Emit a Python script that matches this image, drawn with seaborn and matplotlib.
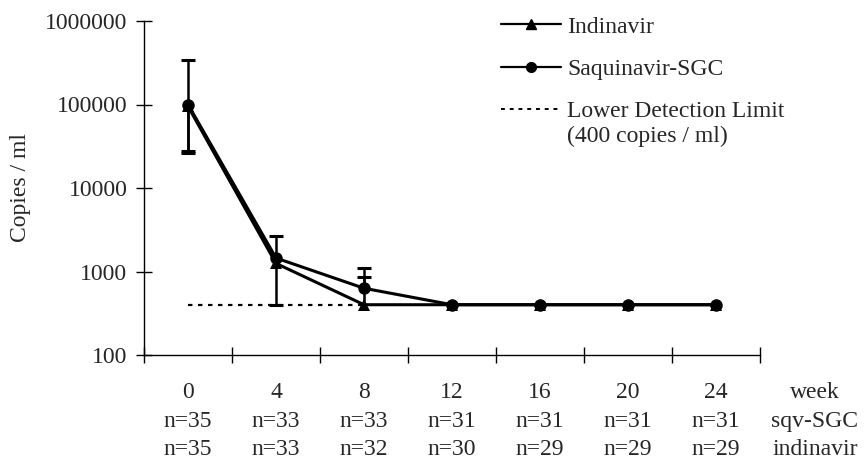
import numpy as np
import pandas as pd
import matplotlib
matplotlib.use("Agg")
import matplotlib.pyplot as plt
from matplotlib.lines import Line2D
import seaborn as sns

# ---- data ----
weeks = ["0", "4", "8", "12", "16", "20", "24"]
n_sqv = [35, 33, 33, 31, 31, 31, 31]
n_idv = [35, 33, 32, 30, 29, 29, 29]
indinavir = [95000, 1250, 400, 400, 400, 400, 400]
saquinavir = [100000, 1450, 630, 400, 400, 400, 400]
sqv_upper = [340000, 2650, 1100, np.nan, np.nan, np.nan, np.nan]
sqv_lower = [28000, np.nan, np.nan, np.nan, np.nan, np.nan, np.nan]
idv_upper = [np.nan, np.nan, 870, np.nan, np.nan, np.nan, np.nan]
idv_lower = [26500, 400, np.nan, np.nan, np.nan, np.nan, np.nan]
detection_limit = [400, 400, 400]
y_ticks = [100, 1000, 10000, 100000, 1000000]

FS = 17
sns.set_theme(style="white")
plt.rcParams["font.family"] = ["Liberation Serif", "DejaVu Serif"]
plt.rcParams["font.size"] = FS

fig = plt.figure(figsize=(8.65, 4.59), dpi=100)
ax = fig.add_axes([144 / 865, 1 - 355 / 459, (760 - 144) / 865, (355 - 21) / 459])

pos = np.arange(len(weeks))
df = pd.DataFrame({
    "pos": np.concatenate([pos, pos]),
    "value": indinavir + saquinavir,
    "series": ["Indinavir"] * len(weeks) + ["Saquinavir-SGC"] * len(weeks),
})

# detection limit line
ax.plot(pos[:len(detection_limit)], detection_limit, color="black", lw=1.6,
        linestyle=(0, (2, 2.5)), zorder=1)

sns.lineplot(data=df, x="pos", y="value", hue="series", style="series",
             markers={"Indinavir": "^", "Saquinavir-SGC": "o"}, dashes=False,
             palette={"Indinavir": "black", "Saquinavir-SGC": "black"},
             linewidth=2.2, markersize=9, markeredgewidth=0, legend=False,
             ax=ax, zorder=3)

# error bars
def bars(center, ends):
    c = np.array(center, dtype=float)
    e = np.array(ends, dtype=float)
    m = ~np.isnan(e)
    ax.vlines(pos[m], c[m], e[m], color="black", lw=1.8, zorder=2)
    ax.plot(pos[m], e[m], linestyle="none", marker="_", markersize=10,
            markeredgewidth=2.2, color="black", zorder=2)

bars(saquinavir, sqv_upper)
bars(saquinavir, sqv_lower)
bars(indinavir, idv_upper)
bars(indinavir, idv_lower)

ax.set_yscale("log")
ax.set_ylim(100, 1000000)
ax.set_xlim(-0.5, len(weeks) - 0.5)
ax.yaxis.set_major_locator(matplotlib.ticker.FixedLocator(y_ticks))
ax.yaxis.set_minor_locator(matplotlib.ticker.NullLocator())
ax.set_yticklabels([str(v) for v in y_ticks])

ax.set_xticks(np.arange(-0.5, len(weeks)), labels=[""] * (len(weeks) + 1))
ax.set_xticks(pos, minor=True)
LSP = 1.47
ax.set_xticklabels([f"{w}\nn={a}\nn={b}" for w, a, b in zip(weeks, n_sqv, n_idv)],
                   minor=True, linespacing=LSP)
XPAD = 19.5
ax.tick_params(axis="x", which="minor", bottom=True, length=0, pad=XPAD, labelsize=FS)
ax.tick_params(axis="x", which="major", bottom=True, direction="inout", length=11,
               width=1, color="black")
ax.tick_params(axis="y", which="major", left=True, direction="inout", length=11, width=1,
               color="black", pad=6.5, labelsize=FS)

ax.annotate("week\nsqv-SGC\nindinavir", xy=(7.125, 0), xycoords=("data", "axes fraction"),
            xytext=(0, -XPAD), textcoords="offset points", ha="center", va="top",
            fontsize=FS, linespacing=LSP, annotation_clip=False)

ax.set_xlabel("")
ax.set_ylabel("Copies / ml", fontsize=FS)
ax.yaxis.set_label_coords(-0.183, 0.5)

for s in ["top", "right"]:
    ax.spines[s].set_visible(False)
for s in ["left", "bottom"]:
    ax.spines[s].set_color("black")
    ax.spines[s].set_linewidth(1)

handles = [
    Line2D([], [], color="black", lw=1.6, marker="^", markersize=7),
    Line2D([], [], color="black", lw=1.6, marker="o", markersize=7),
    Line2D([], [], color="black", lw=1.4, linestyle=(0, (2, 2.5))),
]
labels = ["Indinavir", "Saquinavir-SGC", "Lower Detection Limit"]
leg = ax.legend(handles, labels, loc="upper left", bbox_to_anchor=(501 / 865, 1 - 16 / 459),
                bbox_transform=fig.transFigure, frameon=False, borderpad=0, borderaxespad=0,
                handlelength=2.55, handletextpad=0.25, labelspacing=0.88, fontsize=FS)

# second line of the third legend label, placed just under the first line
fig.canvas.draw()
t3 = leg.get_texts()[2]
bb = t3.get_window_extent()
fig.text(bb.x0 / fig.bbox.width, (bb.y0 - 4) / fig.bbox.height, "(400 copies / ml)",
         ha="left", va="top", fontsize=FS)

fig.savefig("out.png", dpi=100)
